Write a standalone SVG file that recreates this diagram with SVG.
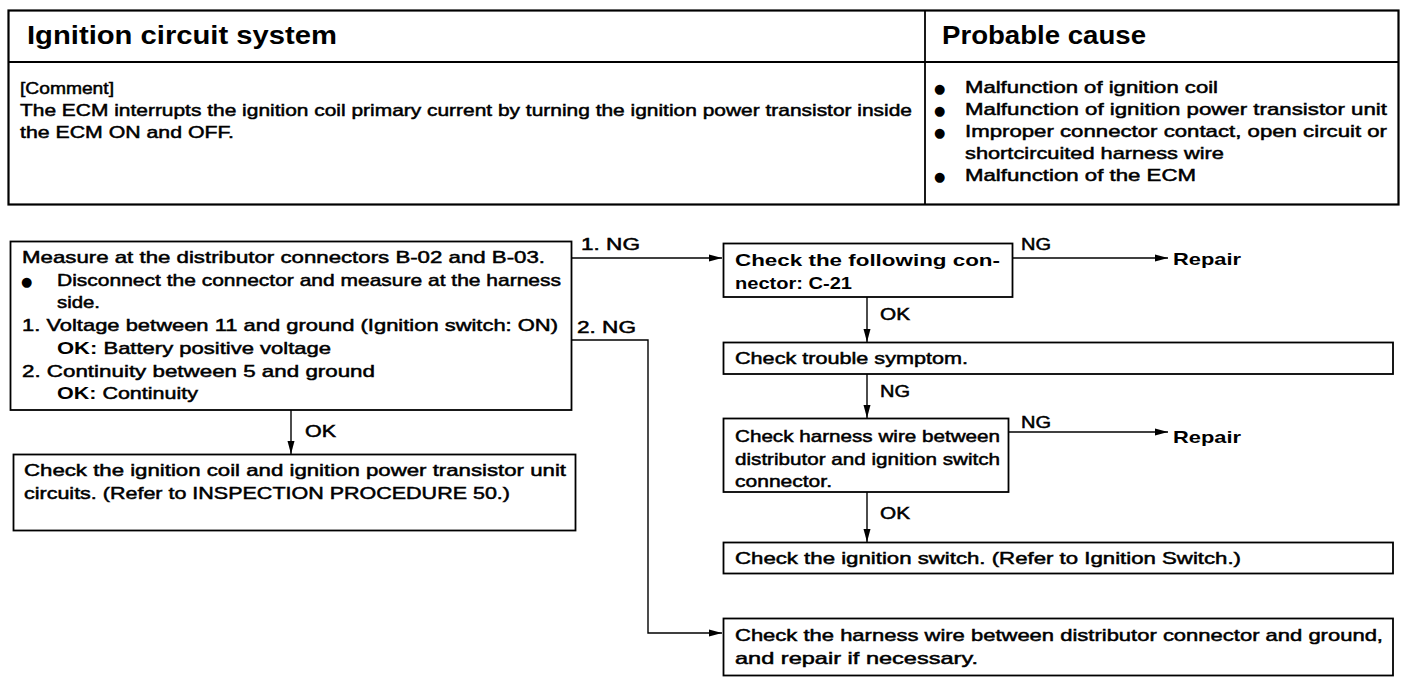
<svg xmlns="http://www.w3.org/2000/svg" width="1408" height="680" viewBox="0 0 1408 680">
<defs>
<marker id="ah" markerUnits="userSpaceOnUse" markerWidth="14" markerHeight="10" refX="13" refY="5" orient="auto">
<path d="M0,1.5 L13,5 L0,8.5 Z" fill="#000"/>
</marker>
<style>
.box{fill:#fff;stroke:#000;stroke-width:1.8}
.ln{fill:none;stroke:#000;stroke-width:1.4}
text{font-family:"Liberation Sans",Arial,sans-serif;fill:#000}
.t{font-size:17px;stroke:#000;stroke-width:0.5}
.b{font-size:17px;font-weight:bold}
.h{font-size:25px;font-weight:bold}
.bl{font-family:"DejaVu Sans",sans-serif;font-size:13px}
</style>
</defs>
<rect width="1408" height="680" fill="#fff"/>

<g id="table">
<rect class="box" x="8.5" y="10.5" width="1390" height="194" style="stroke-width:2.2"/>
<line class="ln" x1="8.5" y1="62" x2="1398.5" y2="62" style="stroke-width:1.8"/>
<line class="ln" x1="925" y1="10.5" x2="925" y2="204.5" style="stroke-width:1.8"/>
<text class="h" x="27" y="44" textLength="310" lengthAdjust="spacingAndGlyphs">Ignition circuit system</text>
<text class="h" x="942" y="44" textLength="204" lengthAdjust="spacingAndGlyphs">Probable cause</text>
<text class="t" x="20" y="94" textLength="94" lengthAdjust="spacingAndGlyphs">[Comment]</text>
<text class="t" x="20" y="116" textLength="892" lengthAdjust="spacingAndGlyphs">The ECM interrupts the ignition coil primary current by turning the ignition power transistor inside</text>
<text class="t" x="20" y="138" textLength="214" lengthAdjust="spacingAndGlyphs">the ECM ON and OFF.</text>
<text class="bl" x="934" y="93">●</text>
<text class="t" x="965" y="93" textLength="253" lengthAdjust="spacingAndGlyphs">Malfunction of ignition coil</text>
<text class="bl" x="934" y="115">●</text>
<text class="t" x="965" y="115" textLength="422" lengthAdjust="spacingAndGlyphs">Malfunction of ignition power transistor unit</text>
<text class="bl" x="934" y="137">●</text>
<text class="t" x="965" y="137" textLength="422" lengthAdjust="spacingAndGlyphs">Improper connector contact, open circuit or</text>
<text class="t" x="965" y="159" textLength="259" lengthAdjust="spacingAndGlyphs">shortcircuited harness wire</text>
<text class="bl" x="934" y="181">●</text>
<text class="t" x="965" y="181" textLength="231" lengthAdjust="spacingAndGlyphs">Malfunction of the ECM</text>
</g>

<g id="connectors">
<line class="ln" x1="572" y1="258" x2="722" y2="258" marker-end="url(#ah)"/>
<polyline class="ln" points="572,340 648,340 648,633 722,633" marker-end="url(#ah)"/>
<line class="ln" x1="291" y1="410" x2="291" y2="454" marker-end="url(#ah)"/>
<line class="ln" x1="1012" y1="258" x2="1168" y2="258" marker-end="url(#ah)"/>
<line class="ln" x1="867" y1="297" x2="867" y2="342" marker-end="url(#ah)"/>
<line class="ln" x1="867" y1="374" x2="867" y2="418" marker-end="url(#ah)"/>
<line class="ln" x1="1008" y1="432" x2="1168" y2="432" marker-end="url(#ah)"/>
<line class="ln" x1="867" y1="492" x2="867" y2="542" marker-end="url(#ah)"/>
<text class="t" x="581" y="250" textLength="59" lengthAdjust="spacingAndGlyphs">1. NG</text>
<text class="t" x="577" y="333" textLength="59" lengthAdjust="spacingAndGlyphs">2. NG</text>
<text class="t" x="305" y="437" textLength="31" lengthAdjust="spacingAndGlyphs">OK</text>
<text class="t" x="1021" y="250" textLength="30" lengthAdjust="spacingAndGlyphs">NG</text>
<text class="b" x="1173" y="265" textLength="68" lengthAdjust="spacingAndGlyphs">Repair</text>
<text class="t" x="880" y="320" textLength="30" lengthAdjust="spacingAndGlyphs">OK</text>
<text class="t" x="880" y="397" textLength="30" lengthAdjust="spacingAndGlyphs">NG</text>
<text class="t" x="1021" y="428" textLength="30" lengthAdjust="spacingAndGlyphs">NG</text>
<text class="b" x="1173" y="443" textLength="68" lengthAdjust="spacingAndGlyphs">Repair</text>
<text class="t" x="880" y="519" textLength="30" lengthAdjust="spacingAndGlyphs">OK</text>
</g>

<g id="measure">
<rect class="box" x="10.5" y="241.5" width="561" height="168.5"/>
<text class="t" x="22" y="263" textLength="523" lengthAdjust="spacingAndGlyphs">Measure at the distributor connectors B-02 and B-03.</text>
<text class="bl" x="21" y="286">●</text>
<text class="t" x="57" y="286" textLength="504" lengthAdjust="spacingAndGlyphs">Disconnect the connector and measure at the harness</text>
<text class="t" x="57" y="308" textLength="43" lengthAdjust="spacingAndGlyphs">side.</text>
<text class="t" x="22" y="331" textLength="536" lengthAdjust="spacingAndGlyphs">1. Voltage between 11 and ground (Ignition switch: ON)</text>
<text class="t" x="57" y="354" textLength="274" lengthAdjust="spacingAndGlyphs"><tspan class="b" style="stroke:none">OK:</tspan> Battery positive voltage</text>
<text class="t" x="22" y="377" textLength="353" lengthAdjust="spacingAndGlyphs">2. Continuity between 5 and ground</text>
<text class="t" x="57" y="399" textLength="141" lengthAdjust="spacingAndGlyphs"><tspan class="b" style="stroke:none">OK:</tspan> Continuity</text>
</g>

<g id="coil">
<rect class="box" x="13.5" y="454.5" width="562" height="76"/>
<text class="t" x="24" y="476" textLength="542" lengthAdjust="spacingAndGlyphs">Check the ignition coil and ignition power transistor unit</text>
<text class="t" x="24" y="499" textLength="486" lengthAdjust="spacingAndGlyphs">circuits. (Refer to INSPECTION PROCEDURE 50.)</text>
</g>

<g id="connectorC21">
<rect class="box" x="723.5" y="243.5" width="289" height="53.5"/>
<text class="b" x="735" y="266" textLength="265" lengthAdjust="spacingAndGlyphs">Check the following con-</text>
<text class="b" x="735" y="289" textLength="117" lengthAdjust="spacingAndGlyphs">nector: C-21</text>
</g>

<g id="symptom">
<rect class="box" x="723.5" y="342.5" width="669.5" height="31.5"/>
<text class="t" x="735" y="364" textLength="233" lengthAdjust="spacingAndGlyphs">Check trouble symptom.</text>
</g>

<g id="harness">
<rect class="box" x="723.5" y="418.5" width="285" height="73.5"/>
<text class="t" x="735" y="442" textLength="265" lengthAdjust="spacingAndGlyphs">Check harness wire between</text>
<text class="t" x="735" y="465" textLength="265" lengthAdjust="spacingAndGlyphs">distributor and ignition switch</text>
<text class="t" x="735" y="487" textLength="97" lengthAdjust="spacingAndGlyphs">connector.</text>
</g>

<g id="switch">
<rect class="box" x="723.5" y="542.5" width="669.5" height="31"/>
<text class="t" x="735" y="564" textLength="506" lengthAdjust="spacingAndGlyphs">Check the ignition switch. (Refer to Ignition Switch.)</text>
</g>

<g id="ground">
<rect class="box" x="723.5" y="618.5" width="669.5" height="57"/>
<text class="t" x="735" y="641" textLength="648" lengthAdjust="spacingAndGlyphs">Check the harness wire between distributor connector and ground,</text>
<text class="t" x="735" y="664" textLength="243" lengthAdjust="spacingAndGlyphs">and repair if necessary.</text>
</g>
</svg>
